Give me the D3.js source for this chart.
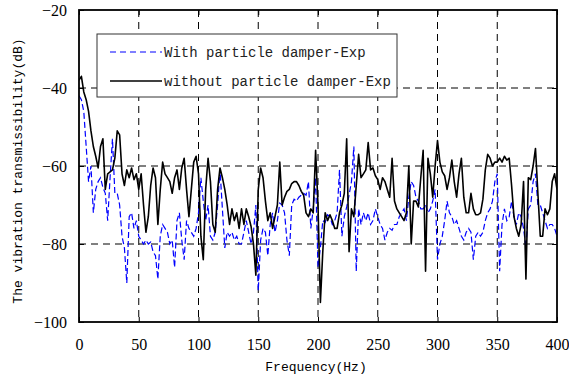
<!DOCTYPE html>
<html><head><meta charset="utf-8">
<script src="https://cdn.jsdelivr.net/npm/d3@7"></script>
<style>body{margin:0;background:#fff}svg{display:block}</style>
</head><body><svg id="c" width="569" height="376"></svg>
<script>
const xTicks=[0,50,100,150,200,250,300,350,400];
const yTicks=[-100,-80,-60,-40,-20];
const freqStep=2;
const withDamper=[
-42,-43,-46,-55,-64,-60,-72,-66,-64,-63,
-65.5,-67,-74,-63,-53,-67,-67,-70,-78,-81,
-90,-73,-72,-76,-74,-78,-79,-80,-79,-80,
-79.5,-82,-83,-89,-78,
-75,-76,-77,-80,-79,-86,-74,-72,-79,-84,
-74,-76,-77,-78,-76,-72,-63,-69,-74,-70,
-78,-79,-77,-70,-61,-71,-81,-77,-78,-77,
-79,-78,-80,-80,-77,
-74,-77,-80,-77,-70,-92,-79,-76,-77,-83,
-75,-72,-77,-74,-69.5,-70,-72,-79,-83,-70,
-68.5,-69,-68,-67.5,-67,-67.5,-64,-76,-71,-63,
-86,-81,-74,-74.5,-72.5,
-73,-75,-74,-72,-61,-78,-73,-70.5,-67.5,-64,
-55,-87,-71,-75,-72,-74,-72,-75,-74,-71,
-73,-75,-76,-79,-77,-76,-76.5,-75,-75,-73,
-72,-71,-74,-68,-64,
-65,-68,-69,-71,-71,-70,-72,-71,-69,-66,
-84,-80,-78,-74,-69,-72,-73,-75,-74,-76,
-78,-79,-77,-76,-77,-84,-78,-77,-78,-77,
-74,-72,-71,-69,-64,
-62,-87,-75,-71,-74,-73,-69,-73,-75,-72,
-73,-76,-81,-71,-70,-64,-62,-70,-70,-72,
-74,-76,-75,-75,-76,-78];
const withoutDamper=[
-38,-37,-41,-43,-46,-51,-55,-57.5,-60.5,-55,
-53,-66,-62,-61.5,-61,-58,-51,-52,-62,-65,
-61,-63,-60.5,-63.5,-62,-66,-62,-70,-77,-73,
-65,-60.5,-63,-75,-66,
-59,-62,-63,-64,-67,-63,-61,-66,-60.5,-58,
-66,-73,-66,-59,-57.5,-62,-78,-84,-66,-58,
-64,-75,-77,-66,-60.5,-63,-66,-70,-75,-71,
-74,-72,-76,-71,-75,
-71,-73,-75.5,-80,-88,-66,-60.5,-63,-69,-74,
-72,-76,-73,-70,-59,-70,-68,-66.5,-66,-64.5,
-64,-64,-65,-66.5,-67.5,-72,-73,-71,-72,-56,
-70,-95,-82,-72,-74,
-72.5,-74,-76,-76,-72,-70,-67,-53,-82,-71,
-73,-65,-57,-63,-62,-61,-54,-61,-60.5,-62.5,
-63.5,-66,-63,-64,-66,-68,-58,-69,-71,-72,
-73,-74,-72,-60,-80,
-69,-69,-70.5,-63,-56,-87,-58,-62,-68,-60,
-53.5,-59,-61.5,-62.5,-66,-63,-58.5,-64,-68,-62,
-58,-68,-72,-72,-67,-71,-72.5,-72.5,-72,-68.5,
-61,-57,-58,-60,-59,
-59,-58,-59,-57.5,-58.5,-58,-65,-73,-76,-78,
-75,-64,-89,-63,-63.5,-60,-55.5,-67,-78,-78,
-71,-72.5,-71,-64,-62,-66];
const legendLabels=["With particle damper-Exp","without particle damper-Exp"];

const svg=d3.select("#c");
const L=79,R=557,T=10,B=322;
const x=d3.scaleLinear().domain([0,400]).range([L,R]);
const y=d3.scaleLinear().domain([-100,-20]).range([B,T]);

svg.append("defs").append("clipPath").attr("id","clip").append("rect")
 .attr("x",L).attr("y",T).attr("width",R-L).attr("height",B-T);

// grid
const g=svg.append("g");
xTicks.slice(1,-1).forEach(v=>g.append("line").attr("x1",x(v)).attr("x2",x(v)).attr("y1",T).attr("y2",B)
 .attr("stroke","#000").attr("stroke-width",1).attr("stroke-dasharray","7,5"));
yTicks.slice(1,-1).forEach(v=>g.append("line").attr("x1",L).attr("x2",R).attr("y1",y(v)).attr("y2",y(v))
 .attr("stroke","#000").attr("stroke-width",1).attr("stroke-dasharray","7,5"));

const line=d3.line().x((d,i)=>x(i*freqStep)).y(d=>y(d));
const lines=svg.append("g").attr("clip-path","url(#clip)");
lines.append("path").datum(withDamper).attr("d",line).attr("fill","none")
 .attr("stroke","#0000ff").attr("stroke-width",1.2).attr("stroke-dasharray","6,3");
lines.append("path").datum(withoutDamper).attr("d",line).attr("fill","none")
 .attr("stroke","#000").attr("stroke-width",1.6).attr("stroke-linejoin","round");

// axes (inward ticks)
const axB=d3.axisBottom(x).tickValues(xTicks).tickSizeInner(-5).tickSizeOuter(0).tickPadding(17);
const axL=d3.axisLeft(y).tickValues(yTicks).tickSizeInner(-5).tickSizeOuter(0).tickPadding(12)
 .tickFormat(d=>d<0?"\u2212"+Math.abs(d):d);
const axT=d3.axisTop(x).tickValues(xTicks).tickSizeInner(-5).tickSizeOuter(0).tickFormat("");
const axR=d3.axisRight(y).tickValues(yTicks).tickSizeInner(-5).tickSizeOuter(0).tickFormat("");
[[axB,`translate(0,${B})`],[axL,`translate(${L},0)`],[axT,`translate(0,${T})`],[axR,`translate(${R},0)`]].forEach(([a,t])=>{
 const gg=svg.append("g").attr("transform",t).call(a);
 gg.select(".domain").remove();
 gg.selectAll("text").attr("font-family","Liberation Serif").attr("font-size",16).attr("fill","#000");
});
svg.append("rect").attr("x",L).attr("y",T).attr("width",R-L).attr("height",B-T)
 .attr("fill","none").attr("stroke","#000").attr("stroke-width",1.8);

// titles
svg.append("text").attr("x",316).attr("y",371).attr("text-anchor","middle")
 .attr("font-family","Liberation Mono").attr("font-size",13).text("Frequency(Hz)");
svg.append("text").attr("transform","translate(22,171) rotate(-90)").attr("text-anchor","middle")
 .attr("font-family","Liberation Mono").attr("font-size",13).text("The vibration transmissibility(dB)");

// legend
const lg=svg.append("g");
lg.append("rect").attr("x",97).attr("y",34).attr("width",300).attr("height",63)
 .attr("fill","#fff").attr("stroke","#333").attr("stroke-width",1);
lg.append("line").attr("x1",110).attr("x2",162).attr("y1",52).attr("y2",52)
 .attr("stroke","#0000ff").attr("stroke-width",1.2).attr("stroke-dasharray","6,4");
lg.append("line").attr("x1",110).attr("x2",162).attr("y1",81).attr("y2",81)
 .attr("stroke","#000").attr("stroke-width",1.5);
legendLabels.forEach((t,i)=>lg.append("text").attr("x",164).attr("y",57+i*29)
 .attr("font-family","Liberation Mono").attr("font-size",14).attr("fill","#222").text(t));
</script></body></html>
